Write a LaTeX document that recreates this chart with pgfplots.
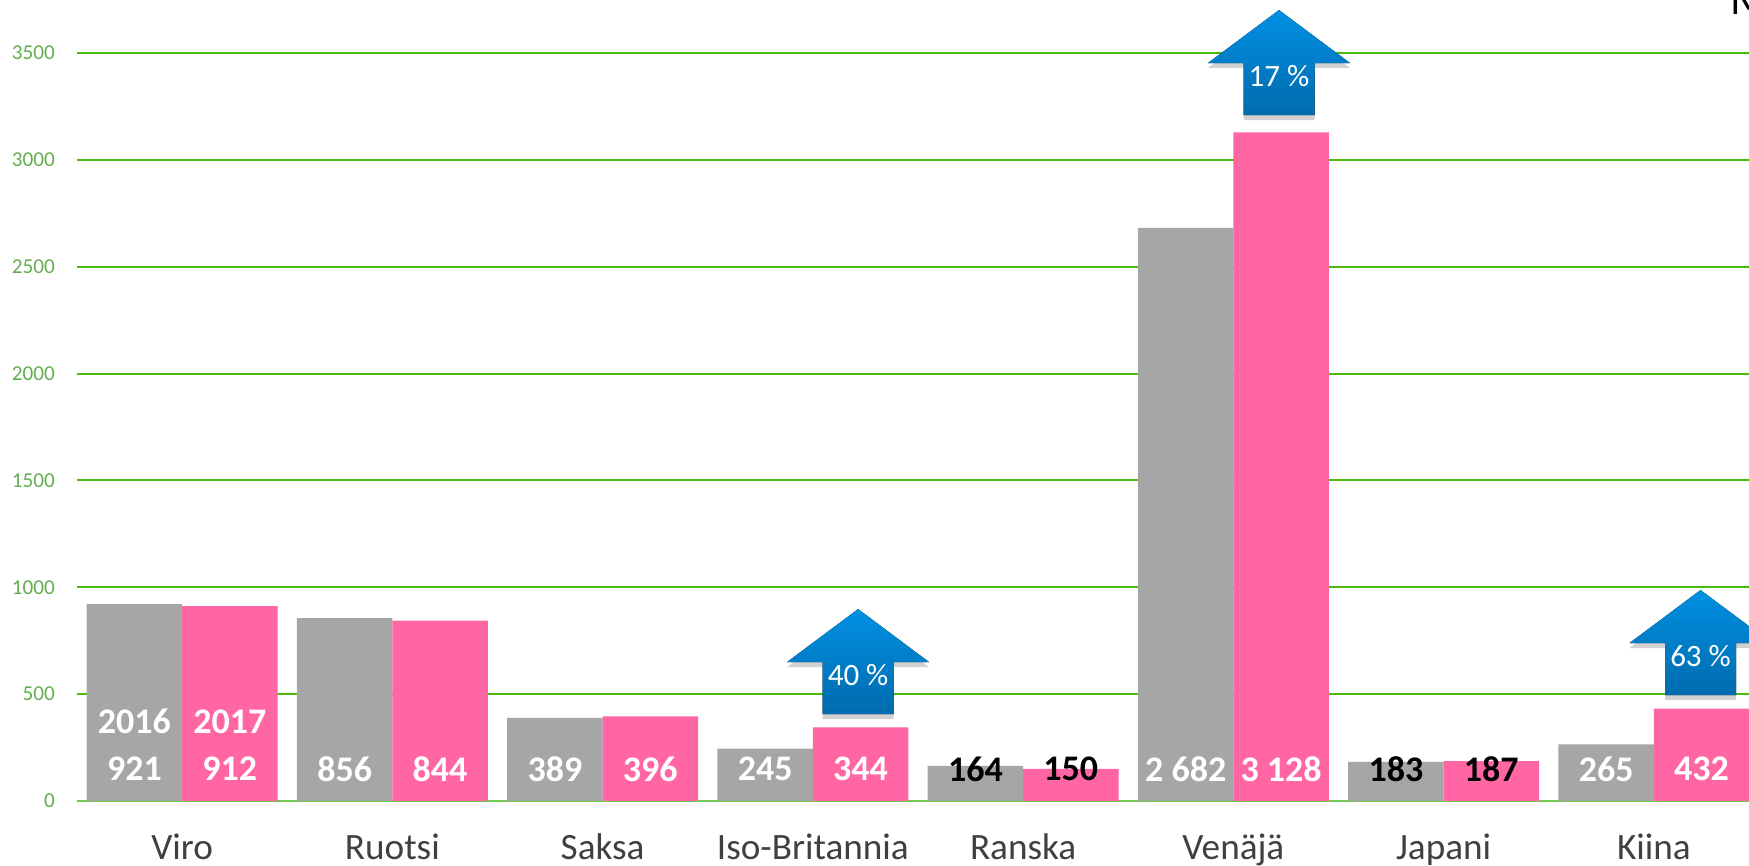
\documentclass[border=0pt]{standalone}
\usepackage{fontspec}
\setmainfont{Carlito}
\usepackage{pgfplots}
\usepackage{pgfplotstable}
\pgfplotsset{compat=1.18}
\usetikzlibrary{shadows}

\definecolor{barGray}{HTML}{A6A6A6}
\definecolor{barPink}{HTML}{FF66A3}
\definecolor{gridGreen}{HTML}{4DBB0E}
\definecolor{baseGreen}{HTML}{72C850}
\definecolor{tickGreen}{HTML}{62AE4F}
\definecolor{catGray}{HTML}{404040}
\definecolor{arrowTop}{HTML}{0090E2}
\definecolor{arrowBottom}{HTML}{006BAE}

\pgfplotstableread{
x y16 y17
0 921 912
1 856 844
2 389 396
3 245 344
4 164 150
5 2682 3128
6 183 187
7 265 432
}\bars

% block arrow, apex at data position, #3 = text
\newcommand{\risearrow}[3]{
  \fill[top color=arrowTop, bottom color=arrowBottom,
        general shadow={shadow xshift=0pt, shadow yshift=-2.5pt, fill=black, opacity=0.18}]
    (axis cs:#1,#2) -- ++(35.5pt,-26.5pt) -- ++(-17.75pt,0pt) -- ++(0pt,-26pt)
    -- ++(-35.5pt,0pt) -- ++(0pt,26pt) -- ++(-17.75pt,0pt) -- cycle;
  \node[white, font=\fontsize{15.5}{18}\selectfont, anchor=center]
    at ([yshift=-33pt]axis cs:#1,#2) {#3};
}

% #1 text colour, #2 sideways shift onto the bar of that year
\pgfplotsset{
  barlabel/.style 2 args={
    only marks, mark=none, forget plot,
    point meta=explicit symbolic,
    nodes near coords,
    nodes near coords style={
      anchor=center, inner sep=0pt, text=#1, xshift=#2,
      font=\fontsize{18}{21}\selectfont\bfseries},
  },
}

\begin{document}
\begin{tikzpicture}
\path[use as bounding box, clip] (0pt,0pt) rectangle (874.5pt,433pt);
\begin{axis}[
    at={(38.5pt,32.5pt)}, anchor=south west,
    scale only axis, width=841pt, height=400.5pt,
    xmin=-0.5, xmax=7.5, ymin=0, ymax=3748,
    clip=false,
    axis x line*=bottom, axis y line*=left,
    axis line style={-},
    x axis line style={draw=baseGreen, line width=1pt},
    y axis line style={draw=none},
    major tick length=0pt,
    ytick={0,500,1000,1500,2000,2500,3000,3500},
    ymajorgrids, grid style={draw=gridGreen, line width=1pt},
    xtick={0,1,2,3,4,5,6,7},
    xticklabels={Viro,Ruotsi,Saksa,Iso-Britannia,Ranska,Venäjä,Japani,Kiina},
    x tick label style={anchor=base, inner sep=0pt, yshift=-29pt, text=catGray,
        font=\fontsize{18.6}{22}\selectfont},
    y tick label style={anchor=east, xshift=-7.5pt, text=tickGreen,
        font=\fontsize{10.6}{13}\selectfont},
    /pgf/number format/assume math mode=true,
    /pgf/number format/1000 sep={},
]
\addplot[ybar, bar width=47.7pt, bar shift=-23.85pt, fill=barGray, draw=none]
    table[x=x, y=y16] {\bars};
\addplot[ybar, bar width=47.7pt, bar shift=23.85pt, fill=barPink, draw=none]
    table[x=x, y=y17] {\bars};

\addplot[barlabel={white}{-23.85pt}] coordinates {
    (0,150) [921] (1,150) [856] (2,150) [389] (3,150) [245]
    (5,150) [2 682] (7,150) [265]
};
\addplot[barlabel={white}{23.85pt}] coordinates {
    (0,150) [912] (1,150) [844] (2,150) [396] (3,150) [344]
    (5,150) [3 128] (7,150) [432]
};
\addplot[barlabel={black}{-23.85pt}] coordinates {(4,150) [164] (6,150) [183]};
\addplot[barlabel={black}{23.85pt}] coordinates {(4,150) [150] (6,150) [187]};
\addplot[barlabel={white}{-23.85pt}] coordinates {(0,371) [2016]};
\addplot[barlabel={white}{23.85pt}] coordinates {(0,371) [2017]};

\risearrow{3.215}{898}{40 \%}
\risearrow{5.217}{3701}{17 \%}
\risearrow{7.222}{987}{63 \%}
\end{axis}
\node[anchor=base west, inner sep=0pt, font=\fontsize{22}{26}\selectfont] at (865pt,425.5pt) {M};
\end{tikzpicture}
\end{document}
